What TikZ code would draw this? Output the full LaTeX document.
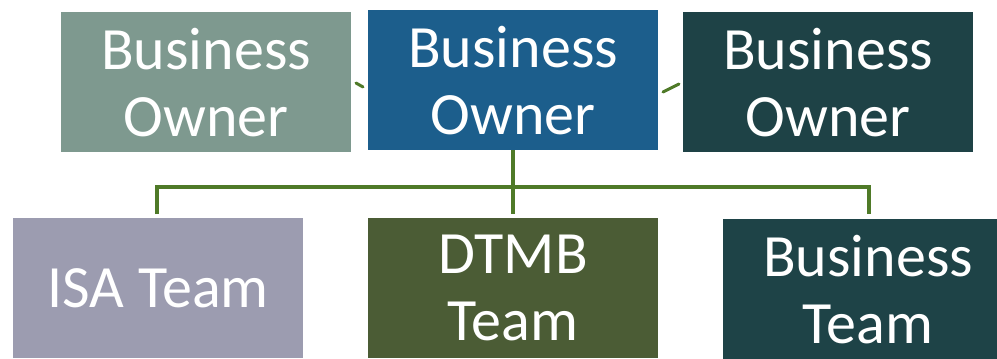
\documentclass[tikz,border=0pt]{standalone}
\usepackage{fontspec}
\setmainfont{Carlito}
\definecolor{cTL}{HTML}{7E998F}
\definecolor{cTM}{HTML}{1C5E8C}
\definecolor{cTR}{HTML}{1E4246}
\definecolor{cBL}{HTML}{9C9CB0}
\definecolor{cBM}{HTML}{4B5C35}
\definecolor{cBR}{HTML}{1E4347}
\definecolor{cLine}{HTML}{4F7A28}
\begin{document}
\begin{tikzpicture}[x=1pt,y=-1pt,
  box/.style={anchor=north west,minimum width=290pt,minimum height=140pt,inner sep=0pt,
    text=white,align=center,font=\fontsize{60}{67}\selectfont},
  conn/.style={draw=cLine,line width=3.5pt},
  tick/.style={draw=cLine,line width=3pt,line cap=round}]
\useasboundingbox (0,0) rectangle (997,359);
\clip (0,0) rectangle (997,359);
\node[box,fill=cTL] (tl) at (61,12) {Business\\Owner};
\node[box,fill=cTM] (tm) at (368,10) {Business\\Owner};
\node[box,fill=cTR] (tr) at (683,12) {Business\\Owner};
\node[box,fill=cBL] (bl) at (13,218) {ISA Team};
\node[box,fill=cBM] (bm) at (368,218) {DTMB\\Team};
\node[box,fill=cBR] (br) at (723,219) {Business\\Team};
\coordinate (jl) at (157,187);
\coordinate (jr) at (869,187);
\coordinate (jm) at (513,187);
\draw[conn] (tm.south -| jm) -- (jm);
\draw[conn] (jl |- bl.north) ++(0,-4) -- (jl) -- (jr) -- ++(0,27);
\draw[conn] (jm) -- ++(0,27);
\coordinate (d1a) at (356,83);
\coordinate (d1b) at (363,87);
\coordinate (d2a) at (663,92);
\coordinate (d2b) at (679,84);
\draw[tick] (d1a) -- (d1b);
\draw[tick] (d2a) -- (d2b);
\end{tikzpicture}
\end{document}
